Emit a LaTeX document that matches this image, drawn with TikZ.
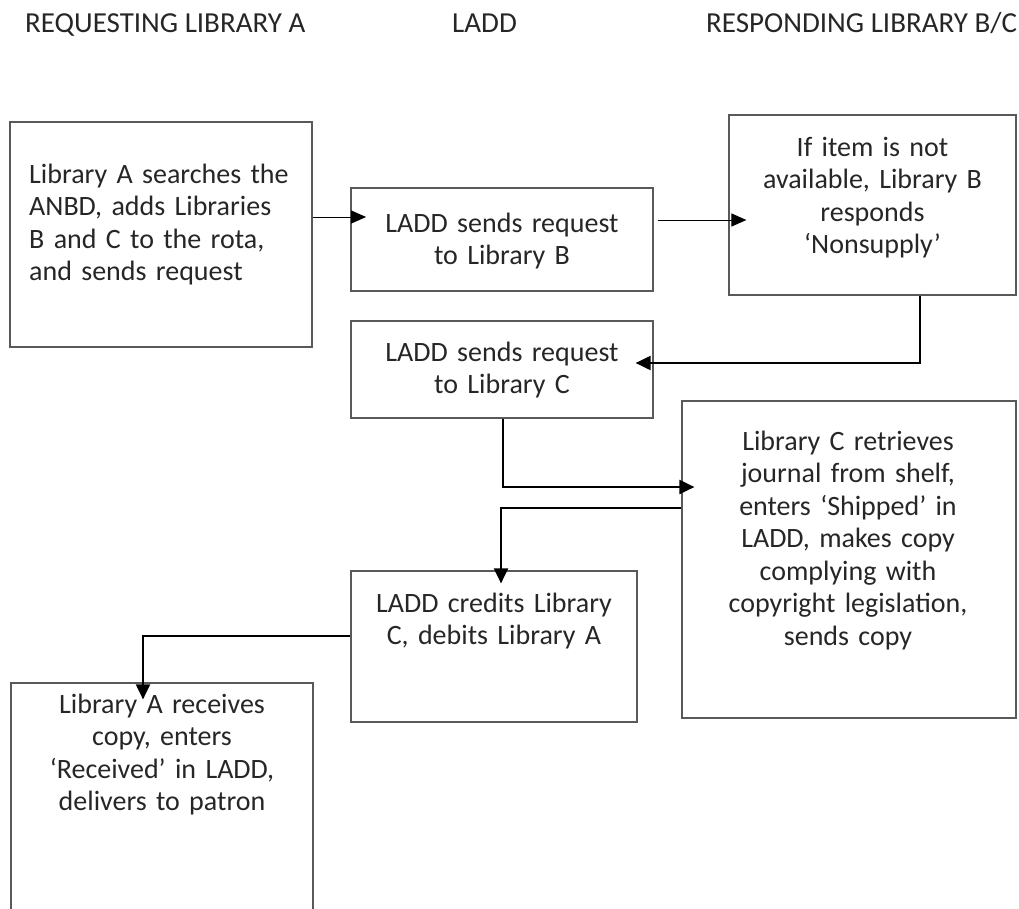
\documentclass[tikz,border=0pt]{standalone}
\usepackage{fontspec}
\setmainfont{Carlito}
\usetikzlibrary{arrows.meta}
\begin{document}
\begin{tikzpicture}[x=1pt,y=-1pt,
  box/.style={draw=black!65, line width=1.2pt, inner sep=0pt, fill=none},
  txt/.style={font=\fontsize{28}{32.5}\selectfont, text=black!85, inner sep=0pt, align=center, text width=#1},
  hdr/.style={font=\fontsize{29}{33}\selectfont, text=black!85, inner sep=0pt},
  thinarr/.style={line width=1pt, -{Triangle[length=15pt,width=13pt]}},
  thickarr/.style={line width=2pt, -{Triangle[length=15pt,width=14pt]}},
]
\useasboundingbox (0,0) rectangle (1019,908);

% headers
\node[hdr, anchor=base west] (h1) at (25,32) {REQUESTING LIBRARY A};
\node[hdr, anchor=base west] (h2) at (452,32) {LADD};
\node[hdr, anchor=base west] (h3) at (706,32) {RESPONDING LIBRARY B/C};

% boxes
\node[box, minimum width=302pt, minimum height=225pt] (A1) at (161,234.5) {};
\node[box, minimum width=302pt, minimum height=103pt] (L1) at (502,239.5) {};
\node[box, minimum width=287pt, minimum height=180pt] (B1) at (872.5,205) {};
\node[box, minimum width=302pt, minimum height=97pt] (L2) at (502,369.5) {};
\node[box, minimum width=334pt, minimum height=317pt] (C) at (849,559.5) {};
\node[box, minimum width=286pt, minimum height=151pt] (L3) at (494,646.5) {};
\node[box, minimum width=302pt, minimum height=250pt] (A2) at (162,808) {};

% texts
\node[txt=290pt, align=left, anchor=base west] (tA1) at (29,183)
  {Library A searches the\\ANBD, adds Libraries\\B and C to the rota,\\and sends request};
\node[txt=300pt, anchor=base] (tL1) at (502,232) {LADD sends request\\to Library B};
\node[txt=280pt, anchor=base] (tB1) at (872.5,156)
  {If item is not\\available, Library B\\responds\\‘Nonsupply’};
\node[txt=300pt, anchor=base] (tL2) at (502,361) {LADD sends request\\to Library C};
\node[txt=330pt, anchor=base] (tC) at (848,450)
  {Library C retrieves\\journal from shelf,\\enters ‘Shipped’ in\\LADD, makes copy\\complying with\\copyright legislation,\\sends copy};
\node[txt=284pt, anchor=base] (tL3) at (494,612) {LADD credits Library\\C, debits Library A};
\node[txt=300pt, anchor=base] (tA2) at (162,713)
  {Library A receives\\copy, enters\\‘Received’ in LADD,\\delivers to patron};

% connectors
\draw[thinarr, shorten >=-15.7pt] ([yshift=17.5pt]A1.east) coordinate (s1) -- (s1 -| L1.west);
\draw[thinarr, shorten >=-18pt] ([xshift=4pt,yshift=19.5pt]L1.east) coordinate (s2) -- (s2 -| B1.west);
\draw[thickarr, shorten >=-18pt] ([xshift=47.5pt]B1.south) |- ([yshift=6.5pt]L2.east);
\draw[thickarr, shorten >=-13pt] ([xshift=1pt]L2.south) |- ([yshift=72.5pt]C.west);
\draw[thickarr, shorten >=-13pt] ([yshift=51.5pt]C.west) -| ([xshift=7pt]L3.north);
\draw[thickarr, shorten >=-17pt] ([yshift=10.5pt]L3.west) -| ([xshift=-19pt]A2.north);
\end{tikzpicture}
\end{document}
